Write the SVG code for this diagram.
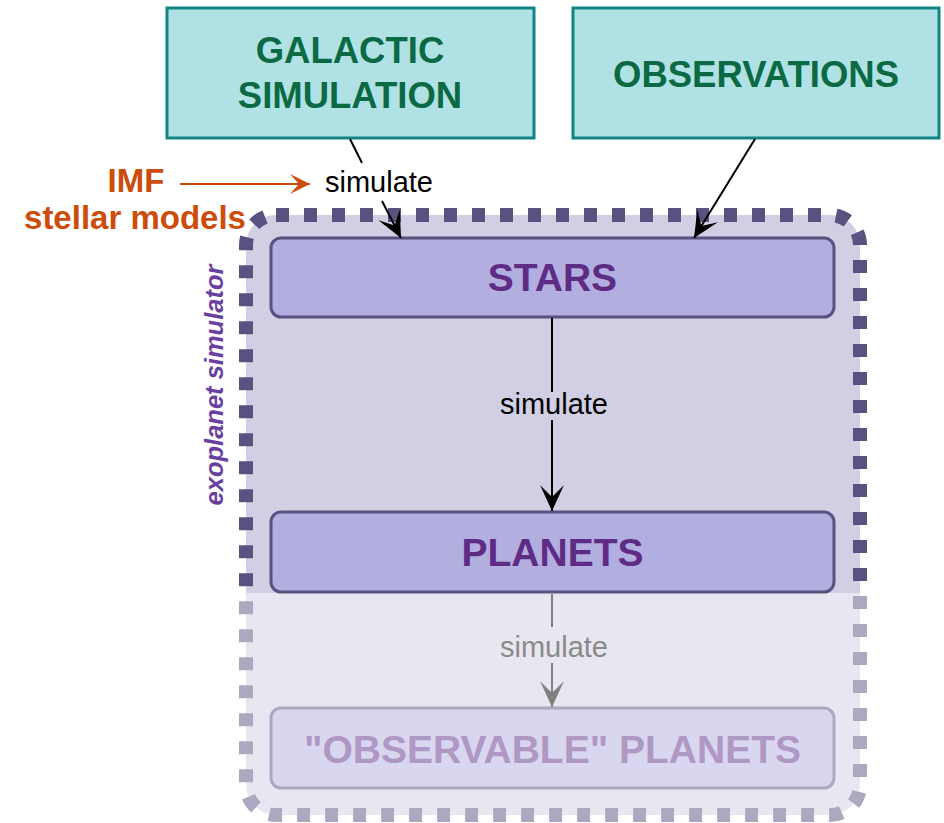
<svg xmlns="http://www.w3.org/2000/svg" width="944" height="823" viewBox="0 0 944 823">
  <style>
    text { font-family: "Liberation Sans", Arial, Helvetica, sans-serif; }
    .src-box { fill: #b0e2e5; stroke: #138484; stroke-width: 3; }
    .src-txt { fill: #0b6a43; font-size: 36.5px; font-weight: bold; text-anchor: middle; }
    .node-box { fill: #b3aee0; stroke: #59517f; stroke-width: 3; }
    .node-txt { fill: #5e2c84; font-size: 39px; font-weight: bold; text-anchor: middle; }
    .faded-box { fill: #d9d6ef; stroke: #aca8c1; stroke-width: 3; }
    .faded-txt { fill: #af98c3; font-size: 39px; font-weight: bold; text-anchor: middle; }
    .edge { fill: none; stroke: #000; stroke-width: 2; }
    .edge-faded { fill: none; stroke: #808080; stroke-width: 2; }
    .edge-input { fill: none; stroke: #cc4c0a; stroke-width: 2; }
    .lbl { font-size: 29px; fill: #000; text-anchor: middle; }
    .lbl-faded { font-size: 29px; fill: #8a8a8a; text-anchor: middle; }
    .input-txt { fill: #cc4c0a; font-size: 33px; font-weight: bold; text-anchor: middle; }
  </style>
  <defs>
    <marker id="head" markerUnits="userSpaceOnUse" viewBox="-30 -15 32 30" refX="0" refY="0" markerWidth="32" markerHeight="30" orient="auto">
      <path d="M0,0 L-26,-12 L-14,0 L-26,12 Z" fill="#000"/>
    </marker>
    <marker id="head-faded" markerUnits="userSpaceOnUse" viewBox="-30 -15 32 30" refX="0" refY="0" markerWidth="32" markerHeight="30" orient="auto">
      <path d="M0,0 L-26,-12 L-14,0 L-26,12 Z" fill="#808080"/>
    </marker>
    <marker id="head-input" markerUnits="userSpaceOnUse" viewBox="-22 -12 24 24" refX="0" refY="0" markerWidth="24" markerHeight="24" orient="auto">
      <path d="M0,0 L-20,-10 L-11,0 L-20,10 Z" fill="#cc4c0a"/>
    </marker>
  </defs>

  <!-- simulator container -->
  <g id="exoplanet-simulator">
    <rect x="246" y="215" width="614" height="600" rx="30" fill="#d0cfe3" stroke="#59517f" stroke-width="14" stroke-dasharray="13 15"/>
    <text transform="rotate(-90 223 385)" x="223" y="385" text-anchor="middle" font-size="25.5" font-weight="bold" font-style="italic" fill="#6b3fa0">exoplanet simulator</text>
    <!-- lower stage is shown washed out -->
    <rect x="232" y="593" width="642" height="230" fill="#ffffff" fill-opacity="0.5"/>
  </g>

  <g id="galactic-simulation">
    <rect class="src-box" x="167" y="8" width="367" height="130"/>
    <text class="src-txt" x="350" y="63">GALACTIC</text>
    <text class="src-txt" x="350" y="108">SIMULATION</text>
  </g>

  <g id="observations">
    <rect class="src-box" x="573" y="8" width="366" height="130"/>
    <text class="src-txt" x="756" y="87" font-size="37">OBSERVATIONS</text>
  </g>

  <g id="imf-inputs">
    <text class="input-txt" x="136" y="192">IMF</text>
    <text class="input-txt" x="135" y="229">stellar models</text>
  </g>

  <g id="stars">
    <rect class="node-box" x="271" y="238" width="563" height="79" rx="10"/>
    <text class="node-txt" x="552.5" y="291">STARS</text>
  </g>

  <g id="planets">
    <rect class="node-box" x="271" y="512" width="563" height="80" rx="10"/>
    <text class="node-txt" x="552.5" y="566">PLANETS</text>
  </g>

  <g id="observable-planets">
    <rect class="faded-box" x="271" y="708" width="563" height="80" rx="10"/>
    <text class="faded-txt" x="552.5" y="763">"OBSERVABLE" PLANETS</text>
  </g>

  <g id="connectors">
    <!-- galactic simulation -> stars -->
    <line class="edge" x1="350" y1="139" x2="362" y2="163"/>
    <line class="edge" x1="382" y1="201" x2="401" y2="238" marker-end="url(#head)"/>
    <text class="lbl" x="379" y="192">simulate</text>
    <!-- observations -> stars -->
    <line class="edge" x1="755" y1="139" x2="694" y2="238" marker-end="url(#head)"/>
    <!-- IMF / stellar models -> simulate -->
    <line class="edge-input" x1="180" y1="184" x2="310" y2="184" marker-end="url(#head-input)"/>
    <!-- stars -> planets -->
    <line class="edge" x1="552" y1="318" x2="552" y2="392"/>
    <line class="edge" x1="552" y1="420" x2="552" y2="511" marker-end="url(#head)"/>
    <text class="lbl" x="554" y="414">simulate</text>
    <!-- planets -> observable planets -->
    <line class="edge-faded" x1="552" y1="594" x2="552" y2="627"/>
    <line class="edge-faded" x1="552" y1="663" x2="552" y2="707" marker-end="url(#head-faded)"/>
    <text class="lbl-faded" x="554" y="657">simulate</text>
  </g>
</svg>
